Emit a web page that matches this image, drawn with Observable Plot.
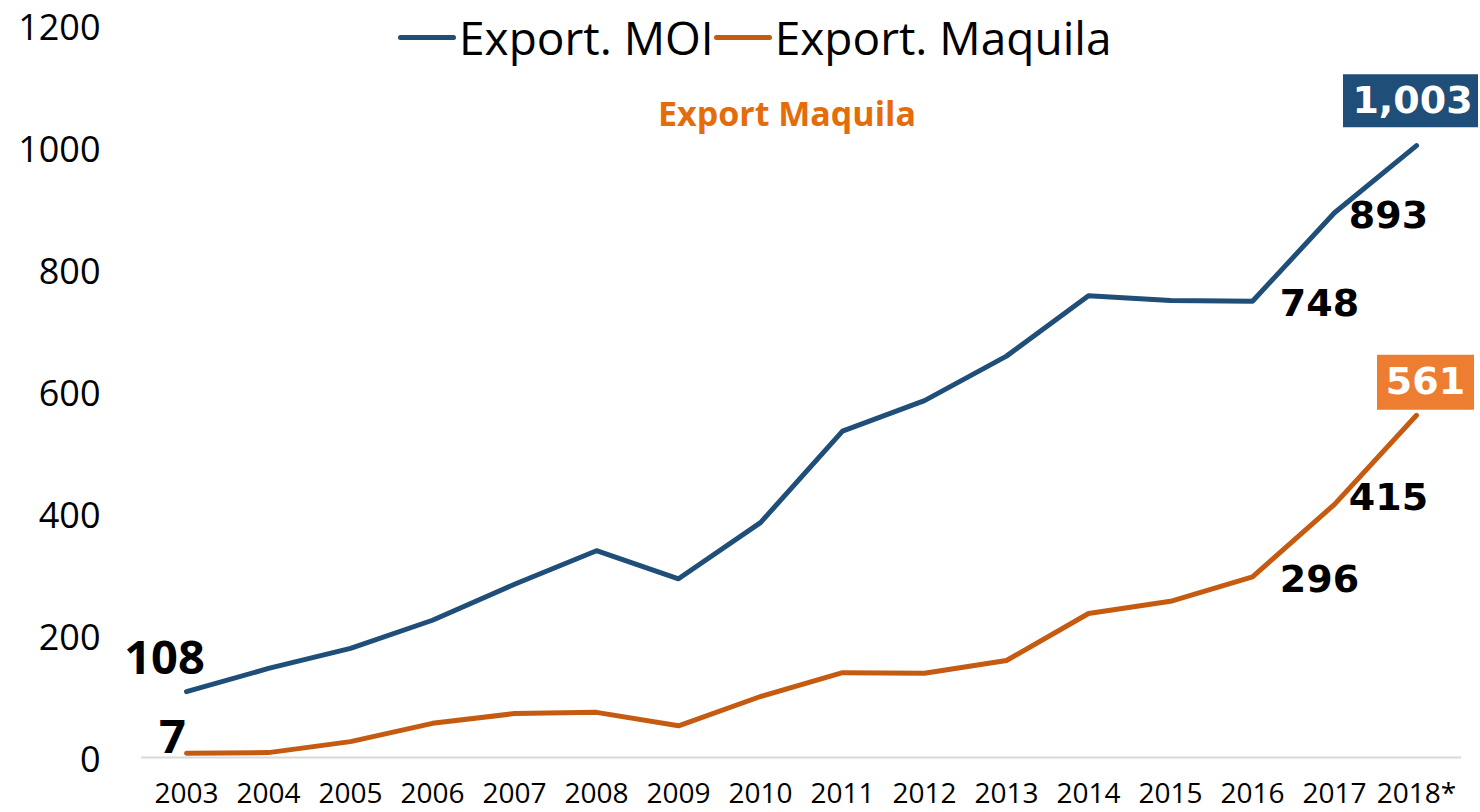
<!DOCTYPE html>
<html><head><meta charset="utf-8">
<script src="https://cdn.jsdelivr.net/npm/d3@7"></script>
<script src="https://cdn.jsdelivr.net/npm/@observablehq/plot@0.6"></script>
<style>
body{margin:0;background:#fff;}
#wrap{position:relative;width:1480px;height:812px;font-family:"Open Sans",sans-serif;color:#000;}
#legend{position:absolute;left:398px;top:8px;height:58px;display:flex;align-items:center;font-size:46px;line-height:1;white-space:nowrap;}
.sw{display:inline-block;width:58px;height:5px;border-radius:3px;margin-right:3px;}
.item{display:flex;align-items:center;}
#title{position:absolute;left:0;width:1574px;top:96px;text-align:center;font-size:34px;font-weight:700;color:#E46C0A;line-height:1;}
#chart{position:absolute;left:0;top:0;}
</style></head>
<body>
<div id="wrap">
  <div id="chart"></div>
  <div id="legend"></div>
  <div id="title"></div>
</div>
<script>
const years = ["2003","2004","2005","2006","2007","2008","2009","2010","2011","2012","2013","2014","2015","2016","2017","2018*"];
const moi = [108,146,179,225,284,339,293,385,535,585,658,757,749,748,893,1003];
const maquila = [7,8,26,56,72,74,52,100,139,138,159,236,256,296,415,561];
const seriesNames = ["Export. MOI","Export. Maquila"];
const seriesColors = ["#1F4E79","#C55A11"];
const titleText = "Export Maquila";
const yTicks = [0,200,400,600,800,1000,1200];

const rows = [];
years.forEach((yr,i)=>{
  rows.push({year:yr, value:moi[i], series:seriesNames[0]});
  rows.push({year:yr, value:maquila[i], series:seriesNames[1]});
});
const moiRows = rows.filter(d=>d.series===seriesNames[0]);
const maqRows = rows.filter(d=>d.series===seriesNames[1]);
const fmt = d3.format(",");
const pick = (arr, yrs) => arr.filter(d=>yrs.includes(d.year));
const boxSym = (w,h) => ({draw(ctx){ ctx.rect(-w/2,-h/2,w,h); }});
const bold = "DejaVu Sans";

const plot = Plot.plot({
  width:1480, height:812,
  marginLeft:141, marginRight:19, marginTop:25, marginBottom:55,
  style:{fontFamily:"Open Sans, sans-serif", color:"#000", background:"#fff"},
  x:{type:"point", domain:years, padding:0.5},
  y:{domain:[0,1200]},
  marks:[
    Plot.ruleY([0],{stroke:"#D9D9D9", strokeWidth:2}),
    Plot.axisY({ticks:yTicks, tickSize:0, tickPadding:41, fontSize:36, dy:3, label:null, tickFormat:d=>String(d)}),
    Plot.axisX({tickSize:0, tickPadding:26, fontSize:28, label:null}),
    Plot.line(rows,{x:"year", y:"value", z:"series", stroke:"series", strokeWidth:5, strokeLinejoin:"round"}),
    Plot.text(pick(moiRows,["2003"]),{x:"year",y:"value",text:d=>fmt(d.value),fontSize:47,fontWeight:"bold",fontFamily:"Open Sans",fill:"#000",dx:-22,dy:-33}),
    Plot.text(pick(maqRows,["2003"]),{x:"year",y:"value",text:d=>fmt(d.value),fontSize:47,fontWeight:"bold",fontFamily:"Open Sans",fill:"#000",dx:-14,dy:-15}),
    Plot.text(pick(rows,["2016"]),{x:"year",y:"value",text:d=>fmt(d.value),fontSize:38,fontWeight:"bold",fontFamily:bold,fill:"#000",dx:67,dy:3}),
    Plot.text(pick(moiRows,["2017"]),{x:"year",y:"value",text:d=>fmt(d.value),fontSize:38,fontWeight:"bold",fontFamily:bold,fill:"#000",dx:54,dy:3}),
    Plot.text(pick(maqRows,["2017"]),{x:"year",y:"value",text:d=>fmt(d.value),fontSize:38,fontWeight:"bold",fontFamily:bold,fill:"#000",dx:54,dy:-7}),
    Plot.dot(pick(moiRows,["2018*"]),{x:"year",y:"value",symbol:boxSym(135,53),r:10,fill:"#1F4E79",stroke:null,dx:-6,dy:-45}),
    Plot.text(pick(moiRows,["2018*"]),{x:"year",y:"value",text:d=>fmt(d.value),fontSize:38,fontWeight:"bold",fontFamily:bold,fill:"#fff",dx:-4,dy:-45}),
    Plot.dot(pick(maqRows,["2018*"]),{x:"year",y:"value",symbol:boxSym(97,55),r:10,fill:"#ED7D31",stroke:null,dx:9,dy:-33}),
    Plot.text(pick(maqRows,["2018*"]),{x:"year",y:"value",text:d=>fmt(d.value),fontSize:38,fontWeight:"bold",fontFamily:bold,fill:"#fff",dx:9,dy:-33})
  ],
  color:{domain:seriesNames, range:seriesColors}
});
document.getElementById("chart").appendChild(plot);

const leg = document.getElementById("legend");
seriesNames.forEach((n,i)=>{
  const it = document.createElement("div"); it.className="item";
  const sw = document.createElement("span"); sw.className="sw"; sw.style.background=seriesColors[i];
  const tx = document.createElement("span"); tx.textContent=n;
  it.appendChild(sw); it.appendChild(tx); leg.appendChild(it);
});
document.getElementById("title").textContent = titleText;
</script>
</body></html>
